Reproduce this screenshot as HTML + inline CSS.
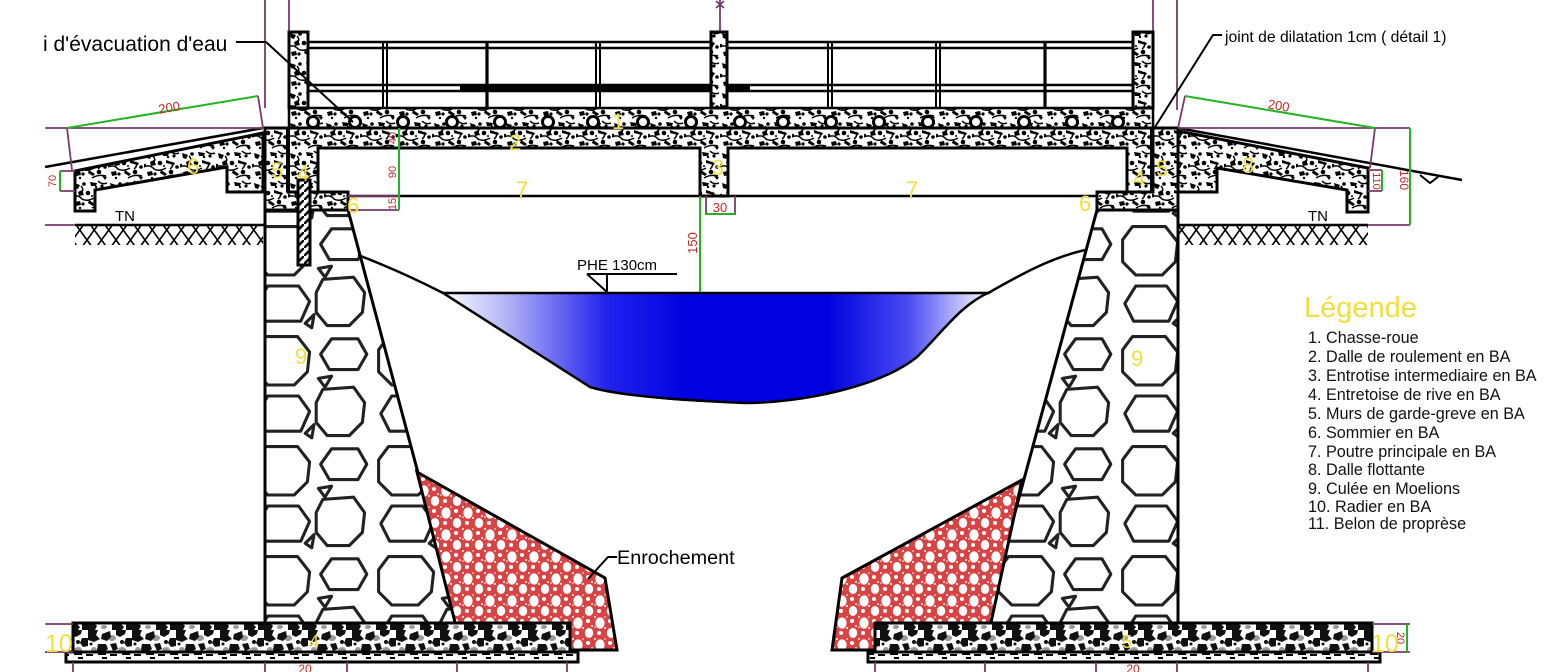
<!DOCTYPE html>
<html><head><meta charset="utf-8"><style>
html,body{margin:0;padding:0;background:#fff;}
svg{display:block;}
text{font-family:"Liberation Sans",Arial,sans-serif;}
</style></head><body>
<svg width="1551" height="672" viewBox="0 0 1551 672" xmlns="http://www.w3.org/2000/svg">
<defs>
<pattern id="conc" width="36" height="30" patternUnits="userSpaceOnUse">
<rect width="36" height="30" fill="#fff"/>
<g fill="#000">
<path d="M2 3 l6 2 l-2 4 l-3 -1 z"/><circle cx="12" cy="4" r="1.8"/><path d="M18 2 l7 1 l-1 3 l-5 0 z"/>
<circle cx="30" cy="6" r="1.6"/><path d="M6 12 l4 -2 l2 5 l-5 1 z"/><circle cx="16" cy="13" r="2.3"/>
<path d="M22 10 l9 3 l-1 2 l-8 -2z"/><circle cx="33" cy="17" r="1.8"/><path d="M3 22 l5 -1 l1 4 l-5 1z"/>
<circle cx="11" cy="24" r="1.6"/><path d="M17 20 l6 4 l-2 2 l-5 -3z"/><circle cx="27" cy="22" r="2.3"/>
<path d="M30 26 l5 1 l-2 3z"/><circle cx="24" cy="7" r="1.2"/><circle cx="8" cy="28" r="1.2"/>
<circle cx="1" cy="15" r="1.2"/><circle cx="20" cy="16" r="1"/>
</g>
<g fill="none" stroke="#000" stroke-width="1.5">
<path d="M0 17 q6 -3 10 2 q5 3 12 -1"/><path d="M20 28 q6 -4 14 -2"/><path d="M26 1 q4 4 9 2"/>
<path d="M9 6 q3 3 1 6"/><path d="M28 12 q2 4 -2 7"/>
</g>
</pattern>
<pattern id="stone" width="124" height="110" patternUnits="userSpaceOnUse">
<rect width="124" height="110" fill="#fff"/>
<g fill="none" stroke="#222" stroke-width="2.8" stroke-linejoin="round" transform="scale(1.1)">
<polygon points="15,6 45,6 56,20 54,38 42,50 18,50 6,38 6,18"/>
<polygon points="66,22 76,8 100,8 108,22 100,36 74,36"/>
<polygon points="64,44 76,42 70,52"/>
<polygon points="68,54 96,52 106,66 104,84 92,96 72,96 62,84 62,66"/>
<polygon points="8,76 18,60 46,60 56,74 48,92 16,92"/>
<polygon points="52,94 60,86 58,98"/>
</g>
</pattern>
<pattern id="rock" width="22" height="22" patternUnits="userSpaceOnUse">
<rect width="22" height="22" fill="#d84444"/>
<g fill="#fff">
<ellipse cx="6" cy="7" rx="4.6" ry="5.6"/><ellipse cx="17" cy="17" rx="4.2" ry="5"/>
<circle cx="16" cy="5" r="2"/><circle cx="5" cy="17" r="2"/><circle cx="11" cy="12" r="1"/>
<circle cx="20" cy="10" r="1"/><circle cx="1" cy="1" r="1"/><circle cx="11" cy="1" r="0.8"/><circle cx="1" cy="11" r="0.8"/>
</g>
</pattern>
<pattern id="rad" width="44" height="30" patternUnits="userSpaceOnUse">
<rect width="44" height="30" fill="#fff"/>
<g fill="#999">
<ellipse cx="24" cy="8" rx="4" ry="3"/><ellipse cx="34" cy="20" rx="4" ry="3"/><ellipse cx="6" cy="20" rx="3" ry="3"/>
<ellipse cx="16" cy="27" rx="3" ry="2"/>
</g>
<g fill="#111">
<path d="M0 0 h10 l-2 5 l4 4 l-6 3 l-6 -2z"/><path d="M14 4 l8 -3 l1 6 l-4 4 l-6 -2z"/>
<path d="M28 0 h10 l-1 4 l-5 3 l-4 -2z"/><path d="M38 8 l6 0 v8 l-5 1 l-3 -4z"/>
<path d="M10 14 l8 0 l2 5 l-6 4 l-5 -3z"/><path d="M22 14 l6 -1 l2 6 l-5 2z"/>
<path d="M0 24 l5 -2 l4 4 l-2 4 h-7z"/><path d="M24 24 l8 -1 l4 4 l-2 3 h-10z"/>
<path d="M38 24 l6 0 v6 h-6z"/><circle cx="34" cy="12" r="2"/><circle cx="3" cy="14" r="1.5"/>
</g>
</pattern>
<pattern id="hatch" width="14.5" height="20" patternUnits="userSpaceOnUse">
<path d="M0 0 L14.5 20 M14.5 0 L0 20" stroke="#000" stroke-width="1.6"/>
</pattern>
<pattern id="dash" width="24" height="10" patternUnits="userSpaceOnUse">
<rect width="24" height="10" fill="#fff"/>
<path d="M2 2 h8 v3 h-8z M14 4 h7 v2 h-7z M6 7 h5 v2 h-5z" fill="#000"/>
</pattern>
<pattern id="dow" width="8" height="8" patternUnits="userSpaceOnUse">
<rect width="8" height="8" fill="#fff"/><path d="M0 8 L8 0" stroke="#000" stroke-width="2.5"/>
</pattern>
<linearGradient id="water" x1="443" y1="0" x2="990" y2="0" gradientUnits="userSpaceOnUse">
<stop offset="0" stop-color="#ffffff"/>
<stop offset="0.12" stop-color="#b0b0f6"/>
<stop offset="0.3" stop-color="#2222ee"/>
<stop offset="0.45" stop-color="#0000e0"/>
<stop offset="0.7" stop-color="#0000e0"/>
<stop offset="0.85" stop-color="#4a4af2"/>
<stop offset="1" stop-color="#ffffff"/>
</linearGradient>
</defs>

<g stroke="#7a3a6a" stroke-width="1.8" fill="none">
<path d="M265 0 V108 M289 0 V32 M1153 0 V32 M1177 0 V110 M720 0 V32"/>
<path d="M716 1 L724 8 M724 1 L716 8"/>
</g>

<g stroke="#000" fill="none">
<path d="M308 42 H1133 M308 48 H1133 M308 85 H1133 M308 91 H1133" stroke-width="2.5"/>
<path d="M460 88 H750" stroke-width="5"/>
<path d="M383 42 V108 M387 42 V108 M596 42 V108 M600 42 V108 M828 42 V108 M832 42 V108 M936 42 V108 M940 42 V108" stroke-width="2"/>
<path d="M487 42 V108 M1045 42 V108" stroke-width="3.2"/>
</g>

<rect x="289" y="108" width="864" height="20" fill="url(#conc)" stroke="#000" stroke-width="2.5"/>
<g fill="#fff" stroke="#000" stroke-width="3">
<circle cx="313" cy="122" r="5.5"/><circle cx="355" cy="122" r="5.5"/><circle cx="403" cy="122" r="5.5"/>
<circle cx="452" cy="122" r="5.5"/><circle cx="500" cy="122" r="5.5"/><circle cx="548" cy="122" r="5.5"/>
<circle cx="593" cy="122" r="5.5"/><circle cx="643" cy="122" r="5.5"/><circle cx="691" cy="122" r="5.5"/>
<circle cx="740" cy="122" r="5.5"/><circle cx="783" cy="122" r="5.5"/><circle cx="831" cy="122" r="5.5"/>
<circle cx="879" cy="122" r="5.5"/><circle cx="928" cy="122" r="5.5"/><circle cx="976" cy="122" r="5.5"/>
<circle cx="1024" cy="122" r="5.5"/><circle cx="1072" cy="122" r="5.5"/><circle cx="1118" cy="122" r="5.5"/>
</g>

<g fill="url(#conc)" stroke="#000" stroke-width="3">
<rect x="289" y="32" width="19" height="76"/>
<rect x="711" y="32" width="16" height="76"/>
<rect x="1133" y="32" width="20" height="76"/>
</g>

<g fill="url(#conc)" stroke="#000" stroke-width="3" stroke-linejoin="miter">
<polygon points="288,128 1152,128 1152,192 1127,192 1127,148 728,148 728,196 700,196 700,148 318,148 318,192 288,192"/>
<polygon points="265,128 288,128 288,192 348,192 348,210 265,210"/>
<polygon points="1153,128 1178,128 1178,210 1097,210 1097,192 1153,192"/>
</g>
<path d="M288 128 V192 M1152 128 V192" stroke="#000" stroke-width="4"/>
<path d="M348 196 H1097" stroke="#000" stroke-width="2.5"/>

<g fill="url(#stone)" stroke="#000" stroke-width="3">
<polygon points="265,210 348,210 458,623 265,623"/>
<polygon points="1097,210 1178,210 1178,623 985,623"/>
</g>
<rect x="298" y="180" width="12" height="85" fill="url(#dow)" stroke="#000" stroke-width="3"/>

<g fill="url(#rock)" stroke="#000" stroke-width="3" stroke-linejoin="miter">
<polygon points="417,472 605,578 617,650 462,650"/>
<polygon points="1022,480 842,578 832,650 985,650"/>
</g>
<path d="M588 579 L608 557 H617" stroke="#000" stroke-width="2" fill="none"/>

<g stroke="#000" stroke-width="3">
<rect x="66" y="652" width="512" height="10" fill="url(#dash)"/>
<rect x="868" y="652" width="512" height="10" fill="url(#dash)"/>
<rect x="73" y="623" width="497" height="29" fill="url(#rad)"/>
<rect x="875" y="623" width="497" height="29" fill="url(#rad)"/>
</g>

<path d="M443 293 L990 293 C960 305 942 333 917 357 C880 387 800 403 745 403 C680 403 620 396 590 387 Z" fill="url(#water)"/>
<path d="M358 255 Q400 271 443 293 L590 387 Q625 398 745 403 C800 403 880 387 917 357 C942 333 960 305 990 292 C1020 275 1050 258 1085 250" fill="none" stroke="#000" stroke-width="2.5"/>
<path d="M443 293 H990" stroke="#000" stroke-width="2.5"/>
<path d="M587 274 H677 M587 274 L607 292 M607 274 V292" stroke="#000" stroke-width="2" fill="none"/>
<text x="577" y="270" font-size="15" fill="#000">PHE 130cm</text>

<path d="M45 167 L263 128" stroke="#000" stroke-width="2.5"/>
<polygon points="75,171 263,133 263,192 227,192 227,167 95,190 95,211 75,211" fill="url(#conc)" stroke="#000" stroke-width="3"/>
<rect x="75" y="225" width="188" height="20" fill="url(#hatch)"/>
<path d="M75 225 H265" stroke="#000" stroke-width="2.5"/>
<text x="115" y="221" font-size="15" fill="#000">TN</text>

<path d="M1178 128 L1462 180" stroke="#000" stroke-width="2.5"/>
<path d="M1420 175 L1430 183 L1438 177" stroke="#000" stroke-width="2" fill="none"/>
<polygon points="1178,131 1368,168 1368,212 1347,212 1347,190 1217,168 1217,192 1178,192" fill="url(#conc)" stroke="#000" stroke-width="3"/>
<rect x="1178" y="225" width="190" height="20" fill="url(#hatch)"/>
<path d="M1178 225 H1368" stroke="#000" stroke-width="2.5"/>
<text x="1308" y="221" font-size="15" fill="#000">TN</text>

<g stroke="#7a3a6a" stroke-width="1.8" fill="none">
<path d="M45 128 H263 M45 225 H75 M67 128 L72 170 M258 96 L263 128 M60 171 H75 M60 191 H75"/>
<path d="M348 196 H399 M348 210 H399"/>
<path d="M706 196 V215 M735 196 V215"/>
<path d="M1178 128 H1410 M1368 225 H1410 M1185 96 L1178 128 M1375 128 L1370 168 M1368 170 H1382 M1368 191 H1382"/>
<path d="M45 624 H73 M45 652 H73 M1372 624 H1410 M1372 652 H1410"/>
<path d="M73 662 V672 M265 662 V672 M347 662 V672 M457 662 V672 M567 662 V672"/>
<path d="M875 662 V672 M985 662 V672 M1096 662 V672 M1177 662 V672 M1368 662 V672"/>
</g>
<g stroke="#22b422" stroke-width="2" fill="none">
<path d="M67 128 L258 96"/>
<path d="M1185 96 L1375 128"/>
<path d="M60 171 V191"/>
<path d="M399 128 V210"/>
<path d="M700 196 V292"/>
<path d="M706 214 H735"/>
<path d="M1410 128 V225"/>
<path d="M1382 170 V191"/>
<path d="M1407 624 V652"/>
</g>
<g fill="#c82828" font-size="13">
<text x="170" y="112" transform="rotate(-9.5 170 112)" text-anchor="middle">200</text>
<text x="1278" y="110" transform="rotate(9.5 1278 110)" text-anchor="middle">200</text>
<text x="0" y="0" transform="translate(56 181) rotate(-90)" text-anchor="middle" font-size="11">70</text>
<text x="0" y="0" transform="translate(396 172) rotate(-90)" text-anchor="middle" font-size="11">90</text>
<text x="0" y="0" transform="translate(396 204) rotate(-90)" text-anchor="middle" font-size="11">15</text>
<text x="0" y="0" transform="translate(396 138) rotate(-90)" text-anchor="middle" font-size="11">40</text>
<text x="0" y="0" transform="translate(697 243) rotate(-90)" text-anchor="middle">150</text>
<text x="720" y="212" text-anchor="middle">30</text>
<text x="0" y="0" transform="translate(1373 181) rotate(90)" text-anchor="middle" font-size="11">110</text>
<text x="0" y="0" transform="translate(1400 180) rotate(90)" text-anchor="middle" font-size="12">160</text>
<text x="0" y="0" transform="translate(1397 638) rotate(90)" text-anchor="middle" font-size="11">20</text>
<text x="305" y="673" text-anchor="middle" font-size="12">20</text>
<text x="1133" y="673" text-anchor="middle" font-size="12">20</text>
</g>

<path d="M236 42 H266 L353 122" stroke="#000" stroke-width="2" fill="none"/>
<text x="43" y="51" font-size="21" fill="#000">i d'évacuation d'eau</text>
<path d="M1155 127 L1213 35 H1222" stroke="#000" stroke-width="2" fill="none"/>
<text x="1225" y="42" font-size="15.7" fill="#000">joint de dilatation 1cm ( détail 1)</text>
<text x="617" y="564" font-size="19.8" fill="#000">Enrochement</text>

<g fill="#efe040" font-size="22">
<text x="612" y="129">1</text>
<text x="509" y="150">2</text>
<text x="712" y="175">3</text>
<text x="297" y="181">4</text>
<text x="271" y="178">5</text>
<text x="347" y="213">6</text>
<text x="187" y="174">6</text>
<text x="516" y="197">7</text>
<text x="906" y="197">7</text>
<text x="1133" y="186">4</text>
<text x="1156" y="176">5</text>
<text x="1079" y="211">6</text>
<text x="1242" y="173">8</text>
<text x="295" y="364">9</text>
<text x="1131" y="366">9</text>
<text x="45" y="652" font-size="25">10</text>
<text x="1371" y="652" font-size="25">10</text>
<text x="309" y="648" font-size="18">4</text>
<text x="1122" y="648" font-size="18">5</text>
</g>

<text x="1304" y="317" font-size="29" fill="#efe040">Légende</text>
<g font-size="16.2" fill="#111">
<text x="1308" y="343">1. Chasse-roue</text>
<text x="1308" y="362">2. Dalle de roulement en BA</text>
<text x="1308" y="381">3. Entrotise intermediaire en BA</text>
<text x="1308" y="400">4. Entretoise de rive en BA</text>
<text x="1308" y="419">5. Murs de garde-greve en BA</text>
<text x="1308" y="438">6. Sommier en BA</text>
<text x="1308" y="457">7. Poutre principale en BA</text>
<text x="1308" y="475">8. Dalle flottante</text>
<text x="1308" y="494">9. Culée en Moelions</text>
<text x="1308" y="512">10. Radier en BA</text>
<text x="1308" y="529">11. Belon de proprèse</text>
</g>
</svg>
</body></html>
